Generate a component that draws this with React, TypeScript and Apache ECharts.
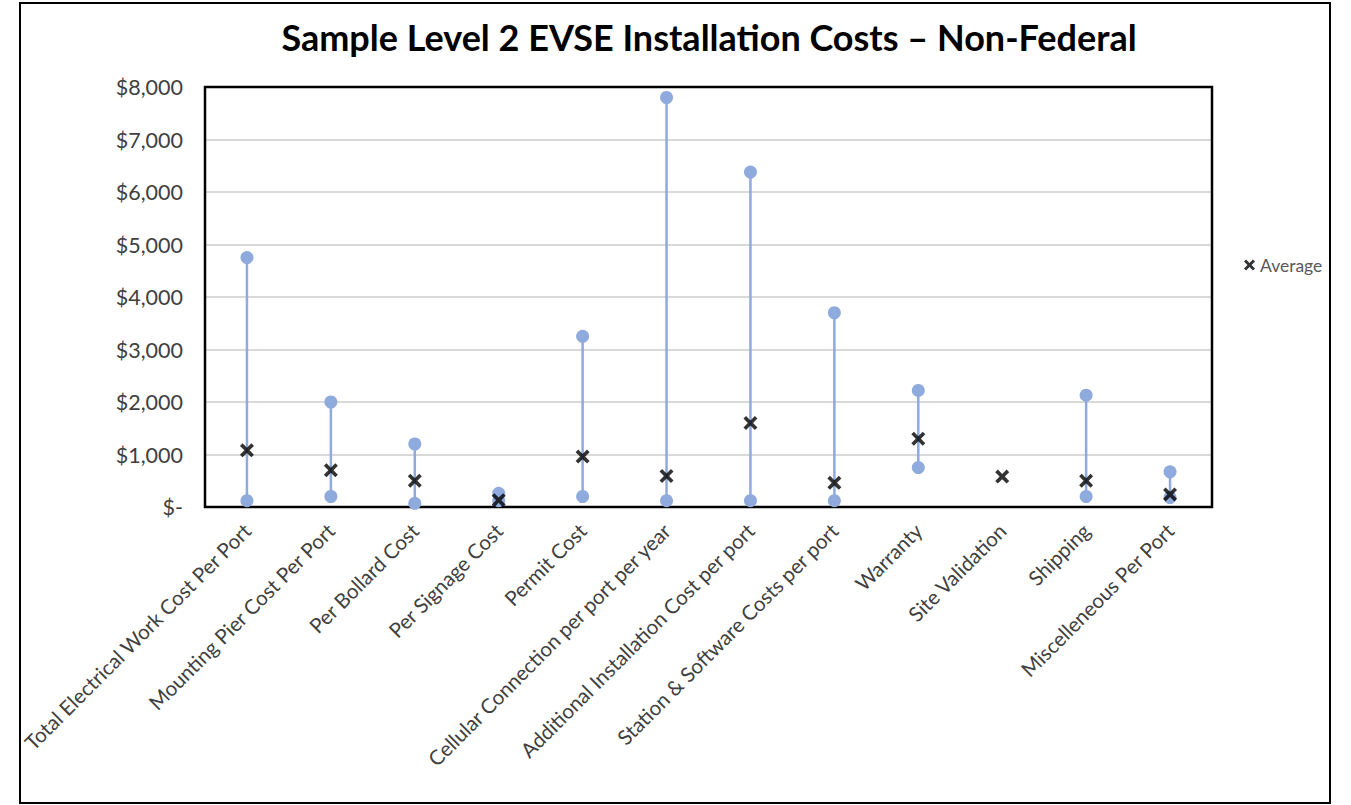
import React, { useEffect, useRef } from "react";
import * as echarts from "echarts";

const categories = [
  "Total Electrical Work Cost Per Port",
  "Mounting Pier Cost Per Port",
  "Per Bollard Cost",
  "Per Signage Cost",
  "Permit Cost",
  "Cellular Connection per port per year",
  "Additional Installation Cost per port",
  "Station & Software Costs per port",
  "Warranty",
  "Site Validation",
  "Shipping",
  "Miscelleneous Per Port",
];
const minValues: (number | null)[] = [120, 200, 70, 120, 200, 120, 120, 120, 750, null, 200, 180];
const maxValues: (number | null)[] = [4750, 2000, 1200, 260, 3250, 7800, 6380, 3700, 2220, null, 2130, 670];
const avgValues = [1080, 700, 500, 130, 960, 590, 1600, 460, 1300, 580, 500, 240];

const FONT = "Lato";
const BLUE = "#8faadc";
const XPATH =
  "path://M0,2.6 L2.6,0 L7,4.4 L11.4,0 L14,2.6 L9.6,7 L14,11.4 L11.4,14 L7,9.6 L2.6,14 L0,11.4 L4.4,7 Z";

const GRID = { left: 205, top: 87, width: 1007, height: 420 };

export default function App() {
  const ref = useRef<HTMLDivElement>(null);
  useEffect(() => {
    if (!ref.current) return;
    const chart = echarts.init(ref.current, undefined, { renderer: "svg" });
    const rangeData = categories
      .map((_, i) => [i, minValues[i], maxValues[i]])
      .filter((d) => d[1] != null && d[2] != null);
    chart.setOption({
      animation: false,
      backgroundColor: "#fff",
      title: {
        text: "Sample Level 2 EVSE Installation Costs \u2013 Non-Federal",
        left: 704,
        textAlign: "center",
        top: 14,
        textStyle: { fontFamily: FONT, fontWeight: "bold", fontSize: 36, color: "#000" },
      },
      graphic: [
        {
          type: "rect",
          shape: { x: 20, y: 3, width: 1310, height: 800 },
          style: { fill: "none", stroke: "#000", lineWidth: 2 },
          silent: true,
        },
        {
          type: "rect",
          shape: { x: GRID.left, y: GRID.top, width: GRID.width, height: GRID.height },
          style: { fill: "none", stroke: "#000", lineWidth: 2.5 },
          silent: true,
          z: 1,
        },
      ],
      legend: {
        left: 1239,
        top: 251,
        data: [{ name: "Average", icon: XPATH }],
        itemWidth: 11,
        itemHeight: 11,
        itemGap: 6,
        textStyle: { fontFamily: FONT, fontSize: 17.5, color: "#595959" },
      },
      grid: {
        left: GRID.left,
        top: GRID.top,
        width: GRID.width,
        height: GRID.height,
        show: false,
      },
      xAxis: {
        type: "category",
        data: categories,
        axisLine: { show: false },
        axisTick: { show: false },
        axisLabel: {
          rotate: 45,
          interval: 0,
          margin: 20,
          fontFamily: FONT,
          fontSize: 20.5,
          color: "#404040",
        },
      },
      yAxis: {
        type: "value",
        min: 0,
        max: 8000,
        interval: 1000,
        axisLine: { show: false },
        axisTick: { show: false },
        splitLine: { lineStyle: { color: "#d9d9d9", width: 2 } },
        axisLabel: {
          margin: 22,
          fontFamily: FONT,
          fontSize: 21.5,
          color: "#404040",
          formatter: (v: number) => (v === 0 ? "$-" : "$" + v.toLocaleString("en-US")),
        },
      },
      series: [
        {
          name: "Range",
          type: "custom",
          data: rangeData,
          encode: { x: 0, y: [1, 2] },
          renderItem: (params: any, api: any) => {
            const x = api.value(0);
            const p1 = api.coord([x, api.value(1)]);
            const p2 = api.coord([x, api.value(2)]);
            return {
              type: "group",
              children: [
                {
                  type: "line",
                  shape: { x1: p1[0], y1: p1[1], x2: p2[0], y2: p2[1] },
                  style: { stroke: BLUE, lineWidth: 2.5 },
                },
                { type: "circle", shape: { cx: p1[0], cy: p1[1], r: 6.5 }, style: { fill: BLUE } },
                { type: "circle", shape: { cx: p2[0], cy: p2[1], r: 6.5 }, style: { fill: BLUE } },
              ],
            };
          },
        },
        {
          name: "Average",
          type: "scatter",
          data: avgValues,
          symbol: XPATH,
          symbolSize: 14,
          itemStyle: { color: "#000" },
          z: 5,
        },
      ],
    });
    return () => chart.dispose();
  }, []);
  return (
    <div
      ref={ref}
      style={{ position: "absolute", left: 0, top: 0, width: 1351, height: 805 }}
    />
  );
}
